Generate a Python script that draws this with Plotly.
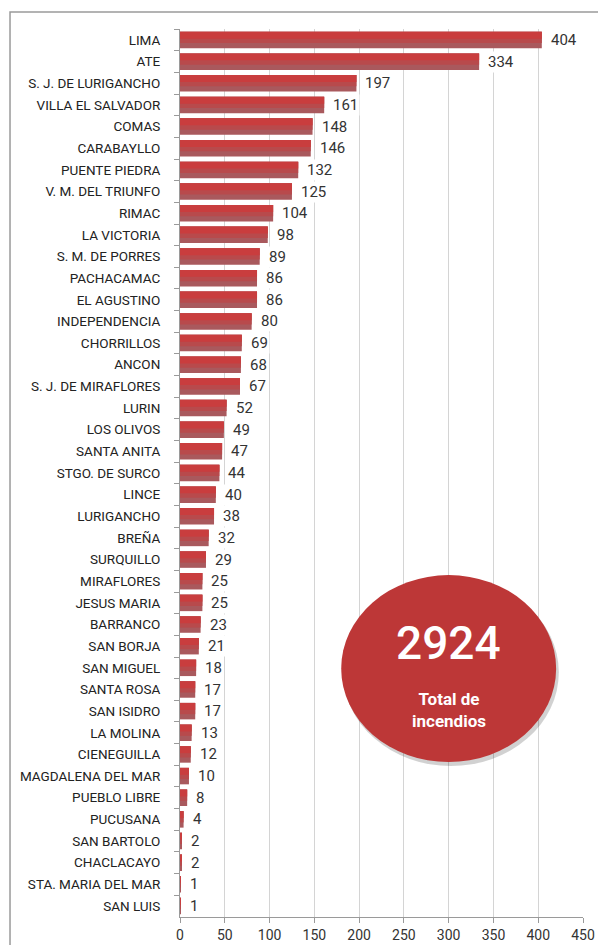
import plotly.graph_objects as go

# datos: incendios por distrito
distritos = ['LIMA', 'ATE', 'S. J. DE LURIGANCHO', 'VILLA EL SALVADOR', 'COMAS', 'CARABAYLLO',
             'PUENTE PIEDRA', 'V. M. DEL TRIUNFO', 'RIMAC', 'LA VICTORIA', 'S. M. DE PORRES',
             'PACHACAMAC', 'EL AGUSTINO', 'INDEPENDENCIA', 'CHORRILLOS', 'ANCON',
             'S. J. DE MIRAFLORES', 'LURIN', 'LOS OLIVOS', 'SANTA ANITA', 'STGO. DE SURCO',
             'LINCE', 'LURIGANCHO', 'BREÑA', 'SURQUILLO', 'MIRAFLORES', 'JESUS MARIA',
             'BARRANCO', 'SAN BORJA', 'SAN MIGUEL', 'SANTA ROSA', 'SAN ISIDRO', 'LA MOLINA',
             'CIENEGUILLA', 'MAGDALENA DEL MAR', 'PUEBLO LIBRE', 'PUCUSANA', 'SAN BARTOLO',
             'CHACLACAYO', 'STA. MARIA DEL MAR', 'SAN LUIS']
incendios = [404, 334, 197, 161, 148, 146, 132, 125, 104, 98, 89, 86, 86, 80, 69, 68, 67,
             52, 49, 47, 44, 40, 38, 32, 29, 25, 25, 23, 21, 18, 17, 17, 13, 12, 10, 8, 4,
             2, 2, 1, 1]
x_ticks = [0, 50, 100, 150, 200, 250, 300, 350, 400, 450]

total = sum(incendios)
FONT = 'Roboto'

fig = go.Figure()

# barras en capas para imitar el degradado
capas = [
    (0.76, -0.38, '#a9595d'),
    (0.52, -0.38, '#b84a4c'),
    (0.32, -0.38, '#c93d3e'),
]
for ancho, desp, color in capas:
    fig.add_trace(go.Bar(x=incendios, y=distritos, orientation='h',
                         width=ancho, offset=desp,
                         marker=dict(color=color, line=dict(width=0)),
                         hoverinfo='skip', showlegend=False))

# etiquetas de valor
for d, v in zip(distritos, incendios):
    fig.add_annotation(x=v, y=d, text=str(v), showarrow=False,
                       xanchor='left', xshift=7, bgcolor='white',
                       font=dict(family=FONT, size=15, color='#333333'))

# marco exterior
fig.add_shape(type='rect', xref='paper', yref='paper',
              x0=-0.4218, x1=1.2, y0=-0.2, y1=1.0191,
              line=dict(color='#9a9a9a', width=1.5), layer='below')

# elipse del total (sombra + elipse)
fig.add_shape(type='circle', xref='x', yref='paper',
              x0=182, x1=423, y0=0.170, y1=0.381,
              fillcolor='rgba(0,0,0,0.18)', line=dict(width=0), layer='above')
fig.add_shape(type='circle', xref='x', yref='paper',
              x0=180, x1=420, y0=0.1745, y1=0.385,
              fillcolor='#bd3737', line=dict(width=0), layer='above')
fig.add_annotation(x=300, y=0.309, xref='x', yref='paper', text=str(total),
                   showarrow=False, yanchor='middle',
                   font=dict(family=FONT, size=46, weight=500, color='white'))
fig.add_annotation(x=300, y=0.233, xref='x', yref='paper',
                   text='<b>Total de<br>incendios</b>', showarrow=False, yanchor='middle',
                   font=dict(family=FONT, size=17, color='white'))

fig.update_layout(width=598, height=945,
                  margin=dict(l=180, r=15, t=29, b=28, autoexpand=False),
                  plot_bgcolor='white', paper_bgcolor='white',
                  barmode='overlay', bargap=0.24,
                  font=dict(family=FONT, color='#333333'))

fig.update_xaxes(range=[0, 450], tickvals=x_ticks, showgrid=True,
                 gridcolor='#d4d4d4', gridwidth=1,
                 showline=True, linecolor='#9a9a9a', linewidth=1,
                 ticks='outside', ticklen=5, tickcolor='#9a9a9a',
                 tickfont=dict(family=FONT, size=14, color='#333333'),
                 zeroline=False, fixedrange=True, automargin=False)
fig.update_yaxes(autorange='reversed', type='category',
                 showline=True, linecolor='#9a9a9a', linewidth=1,
                 ticks='outside', ticklen=5, tickcolor='#9a9a9a', tickson='boundaries',
                 ticklabelstandoff=16,
                 tickfont=dict(family=FONT, size=13.5, color='#222222'),
                 showgrid=False, fixedrange=True, automargin=False)

# sin margen del body para que el gráfico quede en (0, 0)
fig.write_html('out.html', config={'displayModeBar': False},
               post_script="document.body.style.margin='0';")
